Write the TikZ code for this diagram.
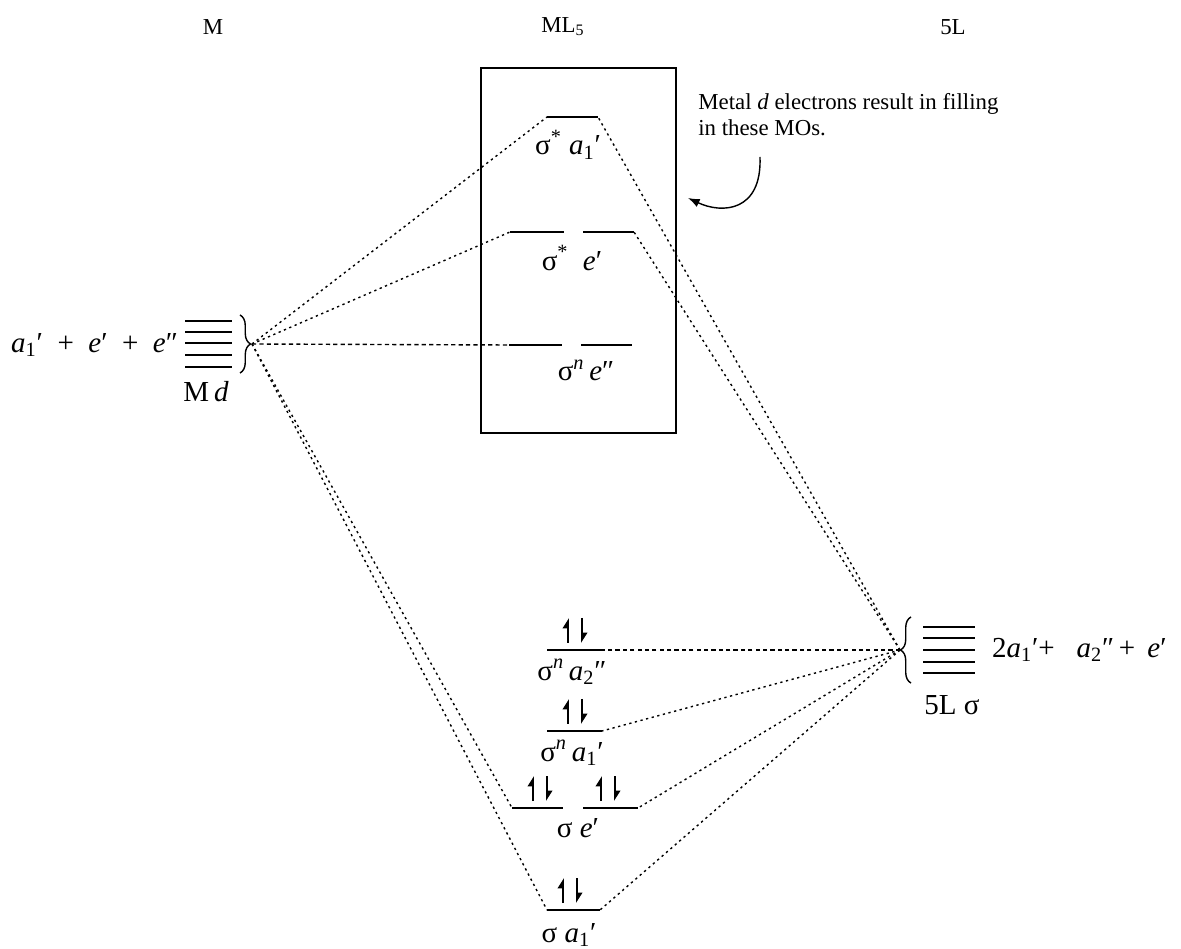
\documentclass[tikz,border=0pt]{standalone}
\usepackage{fontspec}
\setmainfont{Liberation Serif}
\usetikzlibrary{arrows.meta, positioning, calc, decorations.pathreplacing}
\newcommand{\orb}[2]{\textit{#1}\textsubscript{#2}}

\begin{document}
\begin{tikzpicture}[
      x=0.02cm, y=-0.02cm,
      font=\fontsize{13}{15}\selectfont,
      >=Latex,
      lvl/.style={line width=0.9pt},
      lab/.style={font=\fontsize{16.5}{20}\selectfont, inner sep=1pt},
      dotline/.style={line width=0.8pt, dash pattern=on 1.3pt off 2pt},
      dashline/.style={line width=0.8pt, dash pattern=on 2.4pt off 1.8pt},
      brc/.style={line width=0.8pt, decorate, decoration={brace, amplitude=6pt}},
      spin/.style={line width=1.1pt, -{Triangle[left, length=5pt, width=6pt]}},
      pair/.pic={
        \draw[spin] (-7,-7) -- (-7,-32);
        \draw[spin] (7,-32) -- (7,-7);
      }
    ]
      \useasboundingbox (0,0) rectangle (1181,949);
      % column heads
      \node (hM) at (213,27) {M};
      \node (hML) at (563,27) {ML\textsubscript{5}};
      \node (hL) at (953,27) {5L};
      \node[draw, line width=0.9pt, minimum width=3.9cm, minimum height=7.3cm, inner sep=0pt]
        (box) at (578.5,250.5) {};
      % metal d set
      \foreach \y in {321,332,343,355,367} \draw[lvl] (185,\y) -- (232,\y);
      \draw[brc] (240,315) -- (240,373);
      \coordinate (Mt) at (252,344);
      \node[lab, anchor=east] (tMd) at (180,345)
        {\orb{a}{1}′\enskip+\enskip\textit{e}′\enskip+\enskip\textit{e}″};
      \node[lab] (Md) at (206,392) {M\,\textit{d}};
      % ligand sigma set
      \foreach \y in {627,638,650,662,673} \draw[lvl] (923,\y) -- (975,\y);
      \draw[brc] (911,683) -- (911,617);
      \coordinate (Lt) at (900,650);
      \node[lab, anchor=west] (tL) at (990,650)
        {2\orb{a}{1}′+\ \ \ \orb{a}{2}″\,+\ \,\textit{e}′};
      \node[lab] (Ls) at (952,705) {5L σ};
      % antibonding / nonbonding MOs
      \draw[lvl] (547,117) coordinate (sa1L) -- (598,117) coordinate (sa1R);
      \draw[lvl] (510,232) coordinate (seL) -- (564,232);
      \draw[lvl] (583,232) -- (634,232) coordinate (seR);
      \draw[lvl] (509,345) coordinate (neL) -- (562,345);
      \draw[lvl] (581,345) -- (632,345);
      \node[lab] (tsa1) at (568,145) {σ\textsuperscript{*}\ \orb{a}{1}′};
      \node[lab] (tse) at (572,258) {σ\textsuperscript{*}\enspace\textit{e}′};
      \node[lab] (tne) at (586,370) {σ\textsuperscript{\textit{n}}\,\textit{e}″};
      % filled MOs
      \draw[lvl] (547,650) -- (603,650) coordinate (na2R);
      \draw[lvl] (547,731) -- (602,731) coordinate (na1R);
      \draw[lvl] (512,808) coordinate (beL) -- (563,808);
      \draw[lvl] (583,808) -- (638,808) coordinate (beR);
      \draw[lvl] (547,910) coordinate (ba1L) -- (600,910) coordinate (ba1R);
      \pic at (575,650) {pair};
      \pic at (575,731) {pair};
      \pic at (540,808) {pair};
      \pic at (608,808) {pair};
      \pic at (570,910) {pair};
      \node[lab] (tna2) at (572,672) {σ\textsuperscript{\textit{n}}\,\orb{a}{2}″};
      \node[lab] (tna1) at (572,753) {σ\textsuperscript{\textit{n}}\,\orb{a}{1}′};
      \node[lab] (tbe) at (578,828) {σ\ \textit{e}′};
      \node[lab] (tba1) at (569,935) {σ\ \orb{a}{1}′};
      % correlation lines
      \draw[dotline] (Mt) -- (sa1L);
      \draw[dotline] (Mt) -- (seL);
      \draw[dashline] (Mt) -- (neL);
      \draw[dotline] (Mt) -- (beL);
      \draw[dotline] (Mt) -- (ba1L);
      \draw[dotline] (Lt) -- (sa1R);
      \draw[dotline] (Lt) -- (seR);
      \draw[dashline] (Lt) -- (na2R);
      \draw[dotline] (Lt) -- (na1R);
      \draw[dotline] (Lt) -- (beR);
      \draw[dotline] (Lt) -- (ba1R);
      % note
      \node[anchor=north west, align=left, inner sep=0pt] (note) at (698,93)
        {Metal \textit{d} electrons result in filling\\in these MOs.};
      \coordinate (nt) at (760,157);
      \coordinate (nh) at (688,198);
      \draw[->, line width=0.8pt] (nt) .. controls (762,212) and (722,214) .. (nh);
    \end{tikzpicture}
\end{document}
